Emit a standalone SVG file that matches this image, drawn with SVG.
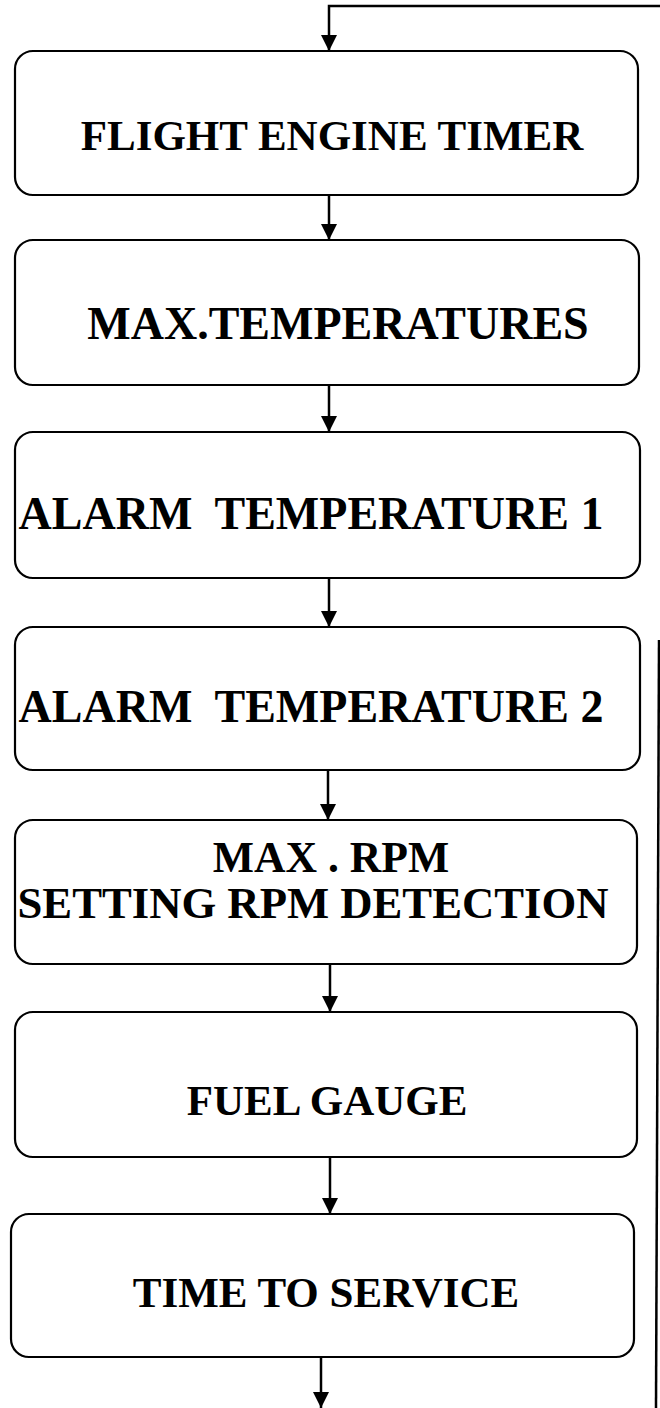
<svg xmlns="http://www.w3.org/2000/svg" width="660" height="1408" viewBox="0 0 660 1408">
<style>
.box{fill:#fff;stroke:#000;stroke-width:2.2}
.t{font-family:"Liberation Serif","Times New Roman",serif;font-weight:bold;font-size:43px;fill:#000;text-anchor:middle;white-space:pre}
.c{stroke:#000;stroke-width:2.5;fill:none}
</style>
<defs>
<marker id="ah" markerWidth="17" markerHeight="16" refX="16" refY="8" orient="auto" markerUnits="userSpaceOnUse">
<path d="M0,0 L16,8 L0,16 Z" fill="#000"/>
</marker>
</defs>
<rect width="660" height="1408" fill="#fff"/>
<g id="connectors">
<path class="c" d="M660,6 L329,6 L329,51" marker-end="url(#ah)"/>
<path class="c" d="M329,195 L329,240" marker-end="url(#ah)"/>
<path class="c" d="M329,385 L329,432" marker-end="url(#ah)"/>
<path class="c" d="M329,578 L329,627" marker-end="url(#ah)"/>
<path class="c" d="M328,770 L328,820" marker-end="url(#ah)"/>
<path class="c" d="M330,964 L330,1012" marker-end="url(#ah)"/>
<path class="c" d="M330,1157 L330,1214" marker-end="url(#ah)"/>
<path class="c" d="M321,1357 L321,1408" marker-end="url(#ah)"/>
<path class="c" d="M659,640 L656,1408" stroke-width="1.5"/>
</g>
<g id="n1"><rect class="box" x="15" y="51" width="623" height="144" rx="18"/><text class="t" x="332" y="150">FLIGHT ENGINE TIMER</text></g>
<g id="n2"><rect class="box" x="15" y="240" width="624" height="145" rx="18"/><text class="t" x="338" y="339" style="font-size:46px">MAX.TEMPERATURES</text></g>
<g id="n3"><rect class="box" x="15" y="432" width="625" height="146" rx="18"/><text class="t" x="311" y="529" style="font-size:46px">ALARM  TEMPERATURE 1</text></g>
<g id="n4"><rect class="box" x="15" y="627" width="625" height="143" rx="18"/><text class="t" x="311" y="722" style="font-size:46px">ALARM  TEMPERATURE 2</text></g>
<g id="n5"><rect class="box" x="15" y="820" width="622" height="144" rx="18"/><text class="t" x="331" y="872" style="font-size:43.7px">MAX . RPM</text><text class="t" x="313" y="918" style="font-size:44.7px">SETTING RPM DETECTION</text></g>
<g id="n6"><rect class="box" x="15" y="1012" width="622" height="145" rx="18"/><text class="t" x="327" y="1115">FUEL GAUGE</text></g>
<g id="n7"><rect class="box" x="11" y="1214" width="623" height="143" rx="18"/><text class="t" x="326" y="1307">TIME TO SERVICE</text></g>
</svg>
